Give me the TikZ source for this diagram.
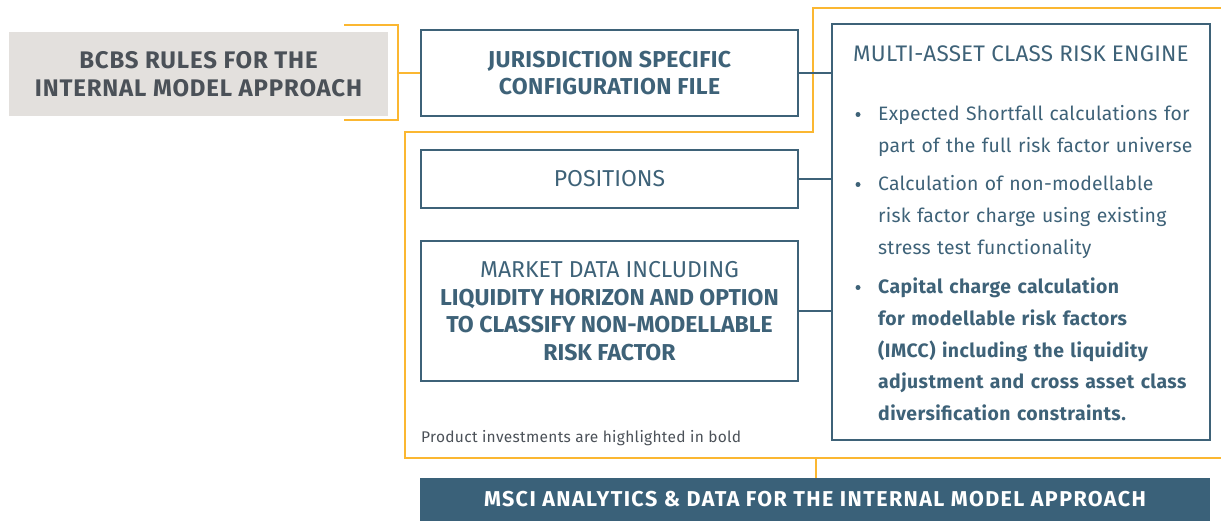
\documentclass[tikz,border=0pt]{standalone}
\usepackage{fontspec}
\setmainfont{Fira Sans}
\definecolor{bluegray}{HTML}{3E6278}
\definecolor{orng}{HTML}{FBB731}
\definecolor{darkgray}{HTML}{4B5158}
\definecolor{lightgray}{HTML}{E3E0DD}
\definecolor{navy}{HTML}{3A6179}
\newcommand{\ls}[1]{\addfontfeature{LetterSpace=#1}}
\begin{document}
\begin{tikzpicture}[x=1pt,y=-1pt,
  boxstyle/.style={draw=bluegray, line width=2.5pt, inner sep=0pt, align=center, text=bluegray},
  orangeline/.style={draw=orng, line width=2pt},
  linkline/.style={draw=bluegray, line width=2pt},
  bullettext/.style={inner sep=0pt, anchor=base west, text=bluegray, text width=330pt, align=left, font=\fontsize{19.4}{32}\selectfont\ls{1}},
  bulletdot/.style={circle, fill=bluegray, inner sep=0pt, minimum size=5pt}
]
\useasboundingbox (0,0) rectangle (1221,521);

% orange frame and bracket
\draw[orangeline] (1222,8) -- (813,8) -- (813,132) -- (405,132) -- (405,458) -- (1222,458);
\draw[orangeline] (344,25) -- (398,25) -- (398,120) -- (344,120);
\coordinate (brk) at (398,73);
\coordinate (frameB) at (816,458);

% gray box
\node[fill=lightgray, minimum width=379pt, minimum height=84pt, inner sep=0pt, align=center, text=darkgray,
  font=\fontsize{24}{28}\selectfont\bfseries\ls{3.5}] (bcbs) at (198.5,74) {BCBS RULES FOR THE\\INTERNAL MODEL APPROACH};

% left column boxes
\node[boxstyle, minimum width=377pt, minimum height=86pt, font=\fontsize{23}{27}\selectfont\bfseries\ls{1.5}] (jur) at (609.5,73)
  {JURISDICTION SPECIFIC\\CONFIGURATION FILE};
\node[boxstyle, minimum width=377pt, minimum height=58pt, font=\fontsize{23}{27}\selectfont] (pos) at (609.5,179) {POSITIONS};
\node[boxstyle, minimum width=377pt, minimum height=140pt, font=\fontsize{23}{27.5}\selectfont] (mkt) at (609.5,311)
  {MARKET DATA INCLUDING\\\textbf{LIQUIDITY HORIZON AND OPTION}\\\textbf{TO CLASSIFY NON-MODELLABLE}\\\textbf{RISK FACTOR}};

% engine box
\node[draw=bluegray, line width=2.5pt, minimum width=378pt, minimum height=416pt, inner sep=0pt] (engine) at (1021,232) {};
\node[inner sep=0pt, anchor=west, text=bluegray, font=\fontsize{22.5}{27}\selectfont\ls{1}] (title) at (853,54) {MULTI-ASSET CLASS RISK ENGINE};

\node[bulletdot] (d1) at (858,114.5) {};
\node[bullettext] (b1) at (878,121) {Expected Shortfall calculations for\\part of the full risk factor universe};
\node[bulletdot] (d2) at (858,184.5) {};
\node[bullettext] (b2) at (878,191) {Calculation of non-modellable\\risk factor charge using existing\\stress test functionality};
\node[bulletdot] (d3) at (858,287.5) {};
\node[bullettext, font=\fontsize{19.4}{31.6}\selectfont\bfseries\ls{2.2}] (b3) at (878,294) {Capital charge calculation\\for modellable risk factors\\(IMCC) including the liquidity\\adjustment and cross asset class\\diversification constraints.};

% note
\node[inner sep=0pt, anchor=base west, text=darkgray, font=\fontsize{15.5}{18}\selectfont\ls{2}] (note) at (421,442) {Product investments are highlighted in bold};

% bottom bar
\node[fill=navy, minimum width=790pt, minimum height=43pt, inner sep=0pt, text=white, font=\fontsize{21.5}{24}\selectfont\bfseries\ls{6.5}] (bar) at (815,499.5)
  {MSCI ANALYTICS \& DATA FOR THE INTERNAL MODEL APPROACH};

% connectors
\draw[orangeline] (brk) -- (jur.west);
\draw[orangeline] (frameB) -- (frameB |- bar.north);
\draw[linkline] (jur.east) -- (jur.east -| engine.west);
\draw[linkline] (pos.east) -- (pos.east -| engine.west);
\draw[linkline] (mkt.east) -- (mkt.east -| engine.west);
\end{tikzpicture}
\end{document}
